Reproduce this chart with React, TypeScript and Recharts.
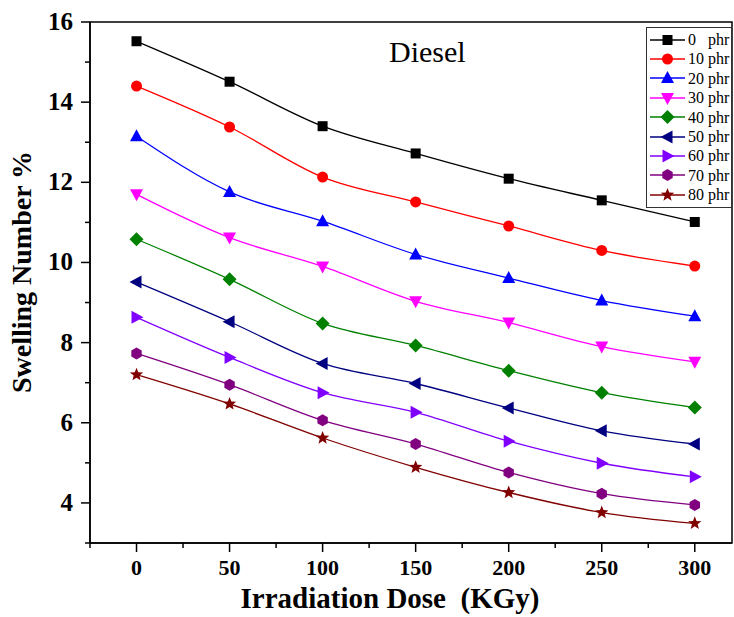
import React from "react"
import {
  LineChart,
  Line,
  XAxis,
  YAxis,
  ReferenceArea,
  Legend
} from "recharts"

// irradiation dose (KGy)
const doses = [0, 50, 100, 150, 200, 250, 300]

// swelling number % per filler loading
const phr0 = [15.52, 14.51, 13.4, 12.72, 12.09, 11.55, 11.01]
const phr10 = [14.4, 13.38, 12.13, 11.51, 10.91, 10.3, 9.91]
const phr20 = [13.15, 11.76, 11.03, 10.2, 9.61, 9.05, 8.66]
const phr30 = [11.7, 10.62, 9.9, 9.03, 8.5, 7.9, 7.52]
const phr40 = [10.58, 9.58, 8.48, 7.93, 7.3, 6.75, 6.38]
const phr50 = [9.51, 8.52, 7.48, 6.98, 6.37, 5.8, 5.47]
const phr60 = [8.63, 7.63, 6.75, 6.26, 5.54, 4.99, 4.65]
const phr70 = [7.73, 6.95, 6.06, 5.47, 4.76, 4.23, 3.95]
const phr80 = [7.2, 6.47, 5.62, 4.89, 4.26, 3.76, 3.49]

const xTicks = [-25, 0, 25, 50, 75, 100, 125, 150, 175, 200, 225, 250, 275, 300]
const yTicks = [3, 4, 5, 6, 7, 8, 9, 10, 11, 12, 13, 14, 15, 16]

const series = [
  { key: "p0", name: "0   phr", values: phr0, color: "#000000", shape: "square" },
  { key: "p10", name: "10 phr", values: phr10, color: "#ff0000", shape: "circle" },
  { key: "p20", name: "20 phr", values: phr20, color: "#0000ff", shape: "up" },
  { key: "p30", name: "30 phr", values: phr30, color: "#ff00ff", shape: "down" },
  { key: "p40", name: "40 phr", values: phr40, color: "#008000", shape: "diamond" },
  { key: "p50", name: "50 phr", values: phr50, color: "#000080", shape: "left" },
  { key: "p60", name: "60 phr", values: phr60, color: "#8000ff", shape: "right" },
  { key: "p70", name: "70 phr", values: phr70, color: "#800080", shape: "hex" },
  { key: "p80", name: "80 phr", values: phr80, color: "#800000", shape: "star" }
]

const data = doses.map((d, i) => {
  const row: any = { dose: d }
  series.forEach(s => { row[s.key] = s.values[i] })
  return row
})

const SERIF = "Liberation Serif, serif"

function polyPts(cx, cy, n, r, rot, inner = 0) {
  const pts = []
  const count = inner ? n * 2 : n
  for (let i = 0; i < count; i++) {
    const a = rot + (i * 2 * Math.PI) / count
    const rr = inner && i % 2 === 1 ? inner : r
    pts.push(`${cx + rr * Math.cos(a)},${cy + rr * Math.sin(a)}`)
  }
  return pts.join(" ")
}

function Marker({ shape, cx, cy, color }) {
  switch (shape) {
    case "square":
      return <rect x={cx - 5} y={cy - 5} width={10} height={10} fill={color} />
    case "circle":
      return <circle cx={cx} cy={cy} r={5.5} fill={color} />
    case "up":
      return <polygon points={`${cx},${cy - 7} ${cx - 6.5},${cy + 5} ${cx + 6.5},${cy + 5}`} fill={color} />
    case "down":
      return <polygon points={`${cx},${cy + 7} ${cx - 6.5},${cy - 5} ${cx + 6.5},${cy - 5}`} fill={color} />
    case "diamond":
      return <polygon points={`${cx},${cy - 7} ${cx + 7},${cy} ${cx},${cy + 7} ${cx - 7},${cy}`} fill={color} />
    case "left":
      return <polygon points={`${cx - 7},${cy} ${cx + 5},${cy - 6.5} ${cx + 5},${cy + 6.5}`} fill={color} />
    case "right":
      return <polygon points={`${cx + 7},${cy} ${cx - 5},${cy - 6.5} ${cx - 5},${cy + 6.5}`} fill={color} />
    case "hex":
      return <polygon points={polyPts(cx, cy, 6, 6, Math.PI / 6)} fill={color} />
    default:
      return <polygon points={polyPts(cx, cy, 5, 7, -Math.PI / 2, 3)} fill={color} />
  }
}

const tickText = { fontFamily: SERIF, fontWeight: 700 }

function XTick({ x, y, payload }) {
  const v = payload.value
  const major = v % 50 === 0
  return (
    <g>
      <line x1={x} y1={y} x2={x} y2={y + (major ? 9 : 5)} stroke="#000" strokeWidth={1.5} />
      {major && (
        <text x={x} y={y + 32} textAnchor="middle" style={{ ...tickText, fontSize: 22 }} fill="#000">
          {v}
        </text>
      )}
    </g>
  )
}

function YTick({ x, y, payload }) {
  const v = payload.value
  const major = v % 2 === 0
  return (
    <g>
      <line x1={x} y1={y} x2={x - (major ? 9 : 5)} y2={y} stroke="#000" strokeWidth={1.5} />
      {major && (
        <text x={x - 17} y={y + 8} textAnchor="end" style={{ ...tickText, fontSize: 25 }} fill="#000">
          {v}
        </text>
      )}
    </g>
  )
}

function LegendBox() {
  return (
    <div style={{
      boxSizing: "border-box",
      width: 86,
      border: "1px solid #333",
      background: "#fff",
      padding: "2px 0 2px 2px",
      fontFamily: SERIF,
      fontSize: 16,
      lineHeight: "19.4px",
      color: "#000"
    }}>
      {series.map(s => (
        <div key={s.key} style={{ display: "flex", alignItems: "center", height: 19.4, whiteSpace: "nowrap" }}>
          <svg width={36} height={16} style={{ flex: "none" }}>
            <line x1={1} y1={8} x2={36} y2={8} stroke={s.color} strokeWidth={1.3} />
            <Marker shape={s.shape} cx={18.5} cy={8} color={s.color} />
          </svg>
          <span style={{ whiteSpace: "pre", marginLeft: 3 }}>{s.name}</span>
        </div>
      ))}
    </div>
  )
}

export default function App() {
  return (
    <div style={{ position: "absolute", left: 0, top: 0, width: 734, height: 617, background: "#fff" }}>
      <LineChart
        width={734}
        height={617}
        data={data}
        margin={{ top: 22, right: 2, bottom: 30, left: 0 }}
      >
        <XAxis
          dataKey="dose"
          type="number"
          domain={[-25, 320]}
          ticks={xTicks}
          interval={0}
          allowDataOverflow
          tickLine={false}
          tickSize={0}
          tickMargin={0}
          tick={XTick}
          height={44}
          axisLine={{ stroke: "#000", strokeWidth: 1.5 }}
        />
        <YAxis
          type="number"
          domain={[3, 16]}
          ticks={yTicks}
          interval={0}
          allowDataOverflow
          tickLine={false}
          tickSize={0}
          tickMargin={0}
          tick={YTick}
          width={90}
          axisLine={{ stroke: "#000", strokeWidth: 1.5 }}
        />
        <ReferenceArea x1={-25} x2={320} y1={3} y2={16} fill="none" stroke="#000" strokeWidth={1.5} />
        <Legend
          layout="vertical"
          align="center"
          verticalAlign="middle"
          content={<LegendBox />}
          wrapperStyle={{ left: 646, top: 27, width: 86, height: "auto" }}
        />
        {series.map(s => (
          <Line
            key={s.key}
            dataKey={s.key}
            name={s.name}
            type="monotone"
            stroke={s.color}
            strokeWidth={1.3}
            isAnimationActive={false}
            dot={(p: any) => <Marker key={p.index} shape={s.shape} cx={p.cx} cy={p.cy} color={s.color} />}
            activeDot={false}
          />
        ))}
      </LineChart>
      <div style={{
        position: "absolute", left: 389, top: 35, fontFamily: SERIF, fontSize: 30, color: "#000"
      }}>
        Diesel
      </div>
      <div style={{
        position: "absolute", left: 0, top: 0, width: 734, textAlign: "center",
        transform: "translate(-345px, 258px) rotate(-90deg)", transformOrigin: "367px 14px",
        fontFamily: SERIF, fontSize: 28, fontWeight: "bold", lineHeight: "28px", color: "#000"
      }}>
        Swelling Number %
      </div>
      <div style={{
        position: "absolute", left: 90, top: 582, width: 600, textAlign: "center", whiteSpace: "pre",
        fontFamily: SERIF, fontSize: 29, fontWeight: "bold", color: "#000"
      }}>
        {"Irradiation Dose  (KGy)"}
      </div>
    </div>
  )
}
